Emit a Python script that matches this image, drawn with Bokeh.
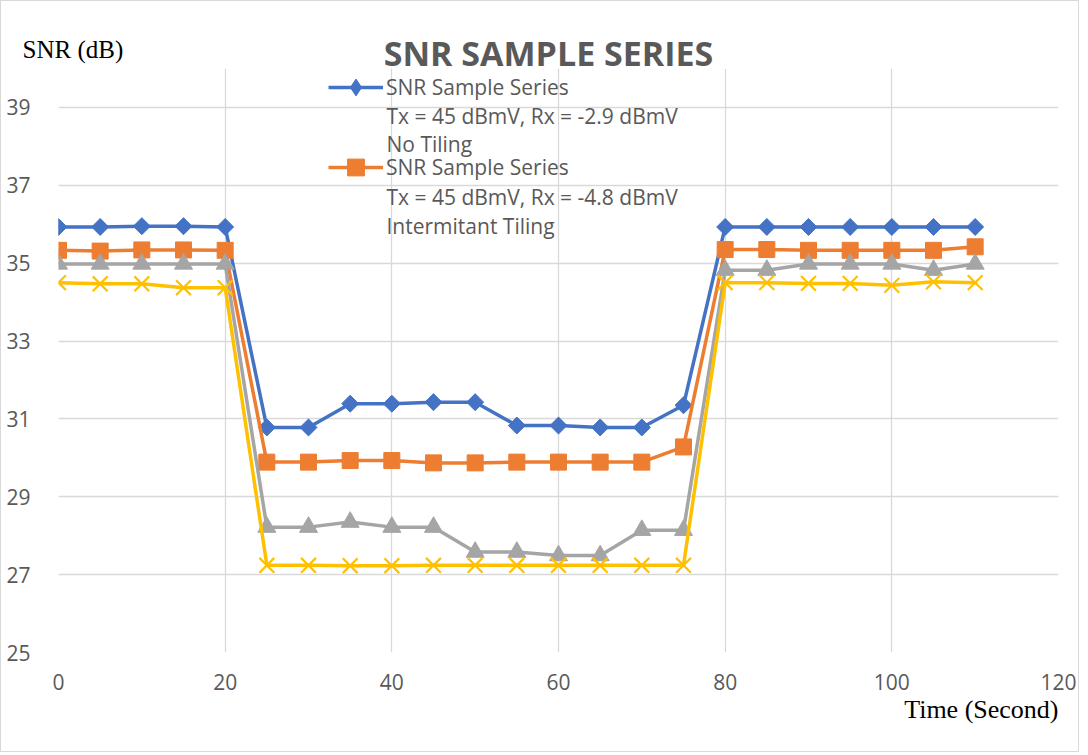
import math
from bokeh.plotting import figure
from bokeh.models import (Range1d, FixedTicker, Legend, LegendItem, Label, Title)
from bokeh.embed import file_html
from bokeh.resources import INLINE

# ---- data ----
time_s = [0, 5, 10, 15, 20, 25, 30, 35, 40, 45, 50, 55, 60, 65, 70, 75,
          80, 85, 90, 95, 100, 105, 110]
snr_no_tiling = [35.93, 35.93, 35.95, 35.95, 35.93,
                 30.78, 30.78, 31.39, 31.39, 31.43, 31.43, 30.83, 30.83, 30.78, 30.78, 31.35,
                 35.93, 35.93, 35.93, 35.93, 35.93, 35.93, 35.93]
snr_intermittent = [35.33, 35.31, 35.34, 35.34, 35.33,
                    29.89, 29.89, 29.93, 29.93, 29.87, 29.87, 29.89, 29.89, 29.89, 29.89, 30.28,
                    35.35, 35.35, 35.33, 35.33, 35.33, 35.33, 35.42]
snr_series3 = [34.98, 34.98, 34.98, 34.98, 34.98,
               28.22, 28.22, 28.35, 28.22, 28.22, 27.58, 27.58, 27.49, 27.49, 28.14, 28.14,
               34.82, 34.82, 34.98, 34.98, 34.98, 34.82, 34.98]
snr_series4 = [34.50, 34.47, 34.47, 34.37, 34.37,
               27.24, 27.24, 27.23, 27.23, 27.24, 27.24, 27.24, 27.24, 27.24, 27.24, 27.24,
               34.50, 34.50, 34.48, 34.48, 34.43, 34.52, 34.50]
x_ticks = [0, 20, 40, 60, 80, 100, 120]
y_ticks = [25, 27, 29, 31, 33, 35, 37, 39]
title_text = "SNR SAMPLE SERIES"
legend_labels = ["SNR Sample Series", "SNR Sample Series"]
legend_sublines = [["Tx = 45 dBmV, Rx = -2.9 dBmV", "No Tiling"],
                   ["Tx = 45 dBmV, Rx = -4.8 dBmV", "Intermitant Tiling"]]

TEXT_GRAY = "#595959"
GRID = "#D9D9D9"
SANS = "Open Sans"
SERIF = "Liberation Serif"
BLUE, ORANGE, GRAY, YELLOW = "#4472C4", "#ED7D31", "#A5A5A5", "#FFC000"

p = figure(frame_width=1000, frame_height=584,
           min_border_left=57, min_border_right=20,
           min_border_top=67, min_border_bottom=90,
           x_range=Range1d(0, 120), y_range=Range1d(25, 40),
           output_backend="svg", toolbar_location=None)
p.styles = {"border": "1px solid #d9d9d9"}
p.outline_line_color = None
p.background_fill_color = "white"
p.border_fill_color = "white"
p.title.visible = False

for ax in (p.xaxis, p.yaxis):
    ax.axis_line_color = None
    ax.major_tick_line_color = None
    ax.minor_tick_line_color = None
    ax.major_label_text_font = SANS
    ax.major_label_text_font_size = "21px"
    ax.major_label_text_color = TEXT_GRAY
p.xaxis.ticker = FixedTicker(ticks=x_ticks)
p.yaxis.ticker = FixedTicker(ticks=y_ticks)
p.xaxis.major_label_standoff = 15
p.yaxis.major_label_standoff = 22

p.xgrid.ticker = FixedTicker(ticks=x_ticks)
p.ygrid.ticker = FixedTicker(ticks=y_ticks)
p.grid.grid_line_color = GRID
p.grid.grid_line_width = 1.3

# series 1 (blue, diamonds)
b_line = p.line(time_s, snr_no_tiling, line_color=BLUE, line_width=3.5)
# upright diamond (hidden under the rotated squares) used as the legend swatch
b_swatch = p.scatter(time_s, snr_no_tiling, marker="diamond", size=15,
                     fill_color=BLUE, line_color=BLUE)
p.scatter(time_s, snr_no_tiling, marker="square", size=12, angle=math.pi / 4,
          fill_color=BLUE, line_color=BLUE)

# series 2 (orange, squares)
o_line = p.line(time_s, snr_intermittent, line_color=ORANGE, line_width=3.5)
o_mark = p.scatter(time_s, snr_intermittent, marker="square", size=16,
                   fill_color=ORANGE, line_color=ORANGE)

# series 3 (gray, triangles)
p.line(time_s, snr_series3, line_color=GRAY, line_width=3.5)
p.scatter(time_s, snr_series3, marker="triangle", size=18, fill_color=GRAY, line_color=GRAY)

# series 4 (yellow, x)
p.line(time_s, snr_series4, line_color=YELLOW, line_width=3.5)
p.scatter(time_s, snr_series4, marker="x", size=21, line_color=YELLOW, line_width=2.2)

legend = Legend(items=[LegendItem(label=legend_labels[0], renderers=[b_line, b_swatch]),
                       LegendItem(label=legend_labels[1], renderers=[o_line, o_mark])],
                location=(270, 464), orientation="vertical",
                padding=0, margin=0, spacing=38,
                glyph_width=55, glyph_height=42, label_height=42,
                label_standoff=3,
                label_text_font=SANS, label_text_font_size="21px",
                label_text_color=TEXT_GRAY,
                border_line_color=None, background_fill_alpha=0)
p.add_layout(legend)

# extra legend text lines (frame-relative screen coordinates)
sub_y = [[584 - (115 - 68), 584 - (143 - 68)], [584 - (196 - 68), 584 - (225 - 68)]]
for i in range(2):
    for j in range(2):
        p.add_layout(Label(x=328, y=sub_y[i][j], x_units="screen", y_units="screen",
                           text=legend_sublines[i][j], text_font=SANS,
                           text_font_size="21px", text_color=TEXT_GRAY,
                           text_baseline="middle", text_align="left"))

# main title in the panel above the frame
p.add_layout(Label(x=490, y=16, x_units="screen", y_units="screen", text=title_text,
                   text_font=SANS, text_font_size="34px", text_font_style="bold",
                   text_color=TEXT_GRAY, text_align="center", text_baseline="middle"),
             "above")

# x axis title below the axis
p.add_layout(Title(text="Time (Second)", align="right", text_font=SERIF,
                   text_font_size="26px", text_font_style="normal",
                   text_color="black", standoff=1), "below")

# y axis title (hosted in the bottom panel, drawn at the top-left)
p.add_layout(Label(x=-36, y=702, x_units="screen", y_units="screen", text="SNR (dB)",
                   text_font=SERIF, text_font_size="25px", text_color="black",
                   text_align="left", text_baseline="middle"), "below")

open("out.html", "w").write(file_html(p, INLINE))
